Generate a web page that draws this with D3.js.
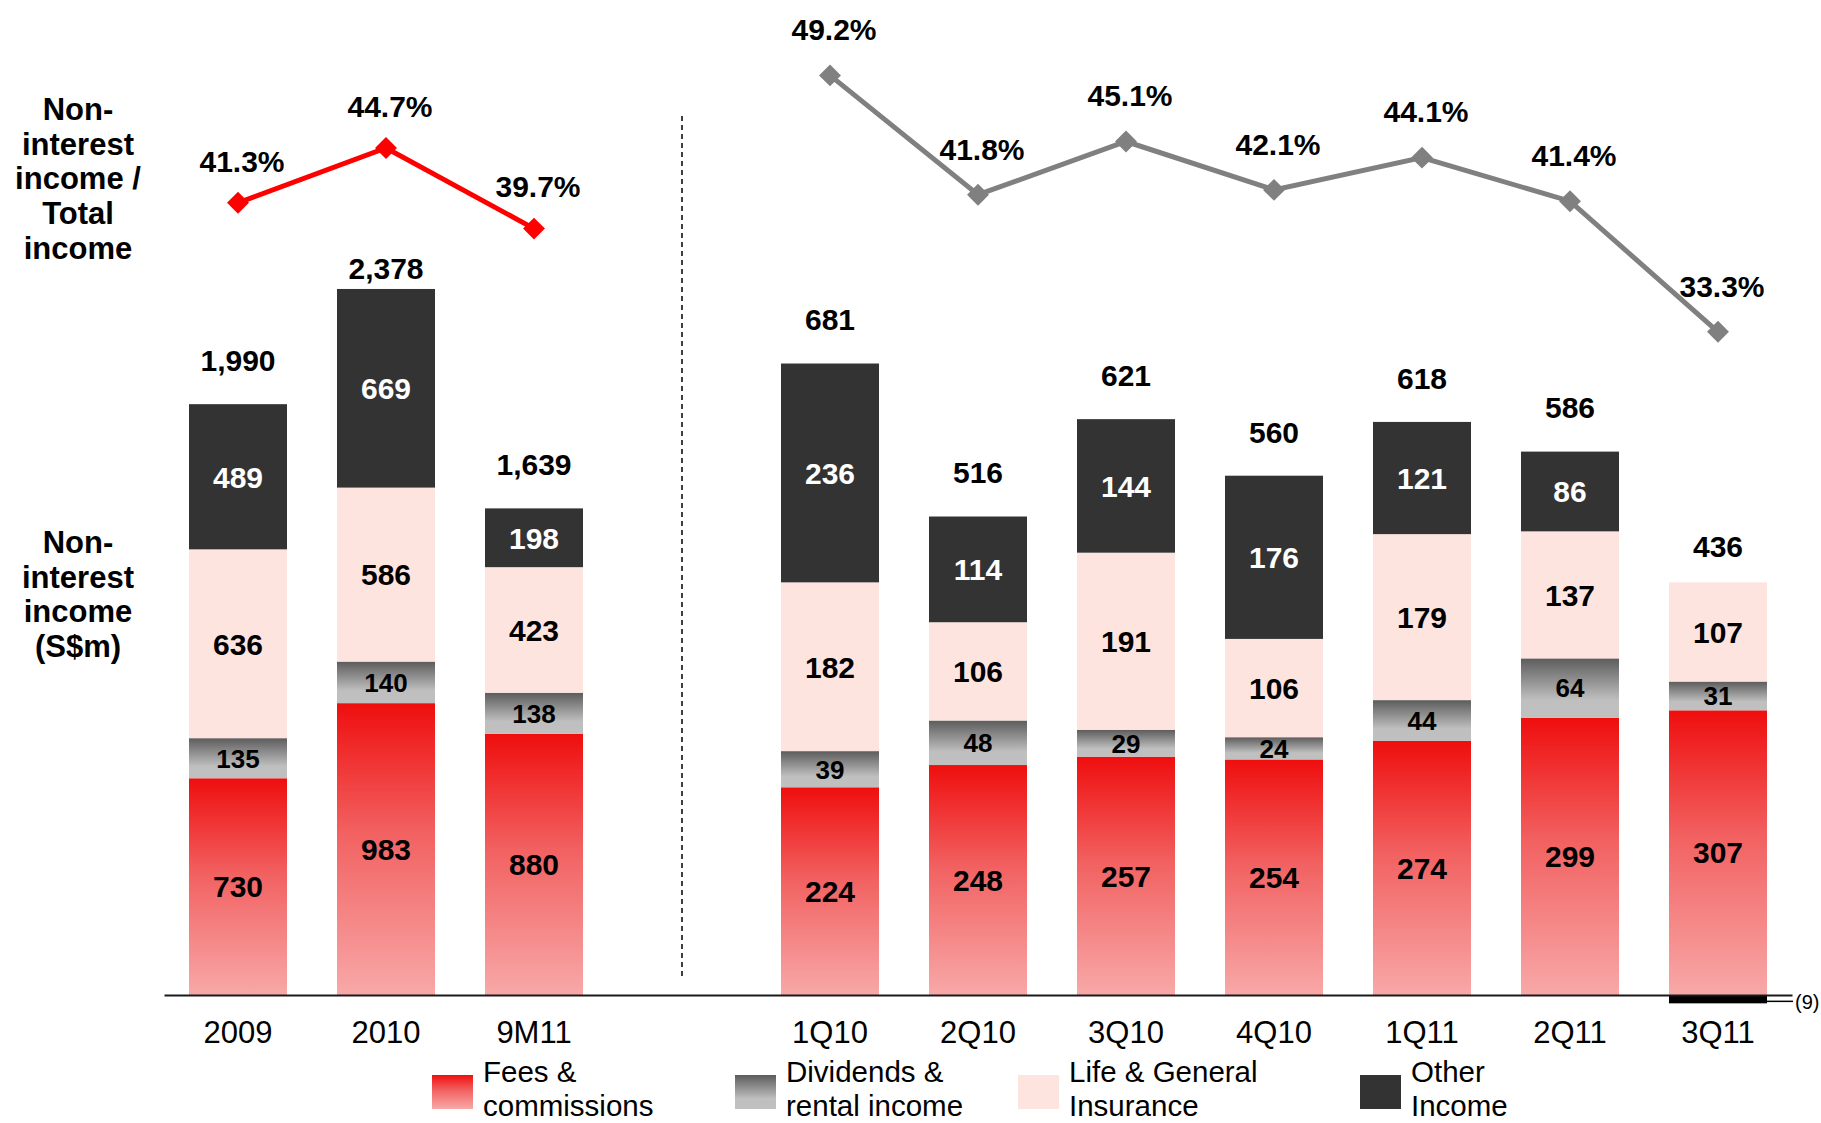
<!DOCTYPE html>
<html>
<head>
<meta charset="utf-8">
<script src="https://cdn.jsdelivr.net/npm/d3@7"></script>
<style>
  body { margin: 0; background: #fff; }
  svg { display: block; font-family: "Liberation Sans", Arial, sans-serif; }
</style>
</head>
<body>
<svg id="chart" width="1821" height="1123"></svg>
<script>
const annualCats = ["2009", "2010", "9M11"];
const quarterCats = ["1Q10", "2Q10", "3Q10", "4Q10", "1Q11", "2Q11", "3Q11"];
const categories = annualCats.concat(quarterCats);

// S$m, in stack order from the bottom
const fees = [730, 983, 880, 224, 248, 257, 254, 274, 299, 307];
const dividends = [135, 140, 138, 39, 48, 29, 24, 44, 64, 31];
const insurance = [636, 586, 423, 182, 106, 191, 106, 179, 137, 107];
const other = [489, 669, 198, 236, 114, 144, 176, 121, 86, -9];
const totals = [1990, 2378, 1639, 681, 516, 621, 560, 618, 586, 436];

// non-interest income / total income, %
const ratio = [41.3, 44.7, 39.7, 49.2, 41.8, 45.1, 42.1, 44.1, 41.4, 33.3];

const seriesKeys = ["fees", "dividends", "insurance", "other"];
const seriesNames = [["Fees &", "commissions"], ["Dividends &", "rental income"],
                     ["Life & General", "Insurance"], ["Other", "Income"]];

const svg = d3.select("#chart");
const baseY = 995;

const rows = categories.map((c, i) => ({
    cat: c, fees: fees[i], dividends: dividends[i], insurance: insurance[i], other: other[i],
    total: totals[i], ratio: ratio[i]
}));

// one empty slot separates the annual and quarterly groups
const slots = annualCats.concat(["_gap"], quarterCats);
const x = d3.scaleBand()
    .domain(slots)
    .range([164, 1792])
    .paddingInner(50 / 148)
    .paddingOuter(25 / 148);

const yAnnual = d3.scaleLinear().domain([0, 2400]).range([baseY, baseY - 2400 * 0.2969]);
const yQuarter = d3.scaleLinear().domain([0, 700]).range([baseY, baseY - 700 * 0.9273]);
const yFor = cat => annualCats.includes(cat) ? yAnnual : yQuarter;

const yRatio = d3.scaleLinear().domain([30, 50]).range([385, 62.5]);

// gradients
const defs = svg.append("defs");
function vGrad(id, stops) {
    const g = defs.append("linearGradient").attr("id", id)
        .attr("x1", 0).attr("y1", 0).attr("x2", 0).attr("y2", 1);
    stops.forEach(s => g.append("stop").attr("offset", s[0]).attr("stop-color", s[1]));
}
vGrad("gFees", [[0, "#ef0e0e"], [0.45, "#f26262"], [1, "#f8a8a8"]]);
vGrad("gDiv", [[0, "#5c5c5c"], [0.7, "#bfbfbf"], [1, "#c0c0c0"]]);

const fills = {fees: "url(#gFees)", dividends: "url(#gDiv)", insurance: "#fee4df", other: "#333333"};

const stacked = d3.stack().keys(seriesKeys).offset(d3.stackOffsetDiverging)(rows);

const barG = svg.append("g");
stacked.forEach(layer => {
    barG.append("g")
        .selectAll("rect")
        .data(layer)
        .enter().append("rect")
            .attr("x", d => x(d.data.cat))
            .attr("width", x.bandwidth())
            .attr("y", d => yFor(d.data.cat)(Math.max(d[0], d[1])))
            .attr("height", d => Math.abs(yFor(d.data.cat)(d[0]) - yFor(d.data.cat)(d[1])))
            .attr("fill", d => (layer.key === "other" && d.data.other < 0) ? "#000" : fills[layer.key]);
});

// segment labels
stacked.forEach(layer => {
    const small = layer.key === "dividends";
    barG.append("g")
        .attr("text-anchor", "middle")
        .attr("font-weight", "bold")
        .attr("font-size", small ? 26 : 30)
        .attr("fill", layer.key === "other" ? "#fff" : "#000")
        .selectAll("text")
        .data(layer.filter(d => d.data[layer.key] > 0))
        .enter().append("text")
            .attr("x", d => x(d.data.cat) + x.bandwidth() / 2)
            .attr("y", d => (yFor(d.data.cat)(d[0]) + yFor(d.data.cat)(d[1])) / 2)
            .attr("dy", "0.36em")
            .text(d => d.data[layer.key]);
});

// totals above the bars
const totalLift = {"2010": 21, "3Q11": 36};
const posTop = d => d.fees + d.dividends + d.insurance + Math.max(0, d.other);
svg.append("g")
    .attr("text-anchor", "middle")
    .attr("font-weight", "bold")
    .attr("font-size", 30)
    .selectAll("text")
    .data(rows)
    .enter().append("text")
        .attr("x", d => x(d.cat) + x.bandwidth() / 2)
        .attr("y", d => yFor(d.cat)(posTop(d)) - (totalLift[d.cat] || 44))
        .attr("dy", "0.36em")
        .text(d => d3.format(",")(d.total));

// negative "other" label for 3Q11
const neg = rows.filter(d => d.other < 0);
neg.forEach(d => {
    const xr = x(d.cat) + x.bandwidth();
    const yb = yFor(d.cat)(d.other);
    svg.append("line").attr("x1", xr).attr("x2", 1793).attr("y1", yb - 2).attr("y2", yb - 2)
        .attr("stroke", "#000").attr("stroke-width", 1.5);
    svg.append("text").attr("x", 1795).attr("y", yb - 2).attr("dy", "0.36em")
        .attr("font-size", 20).text(`(${Math.abs(d.other)})`);
});

// category axis
const xAxis = d3.axisBottom(x)
    .tickValues(categories)
    .tickSize(0)
    .tickPadding(26);
const axG = svg.append("g")
    .attr("transform", `translate(0,${baseY})`)
    .call(xAxis);
axG.select(".domain").attr("stroke", "#1a1a1a").attr("stroke-width", 2);
axG.selectAll("text").attr("font-size", 31).attr("font-family", "Liberation Sans, Arial, sans-serif")
    .attr("fill", "#000");

// dashed divider between annual and quarterly
const gapX = x("_gap") + x.bandwidth() / 2;
svg.append("line")
    .attr("x1", gapX).attr("x2", gapX)
    .attr("y1", 116).attr("y2", 979)
    .attr("stroke", "#000").attr("stroke-width", 1.5)
    .attr("stroke-dasharray", "5,4");

// ratio lines
const lineGen = d3.line()
    .x(d => x(d.cat) + x.bandwidth() / 2)
    .y(d => yRatio(d.ratio));
const diamond = d3.symbol(d3.symbolSquare, 240);

[[rows.slice(0, 3), "#ff0000", 42], [rows.slice(3), "#808080", 46]].forEach(([data, color, lift]) => {
    const g = svg.append("g");
    g.append("path")
        .datum(data)
        .attr("d", lineGen)
        .attr("fill", "none")
        .attr("stroke", color)
        .attr("stroke-width", 5);
    g.selectAll("path.mk")
        .data(data)
        .enter().append("path")
            .attr("class", "mk")
            .attr("d", diamond)
            .attr("fill", color)
            .attr("transform", d => `translate(${x(d.cat) + x.bandwidth() / 2},${yRatio(d.ratio)}) rotate(45)`);
    g.selectAll("text")
        .data(data)
        .enter().append("text")
            .attr("x", d => x(d.cat) + x.bandwidth() / 2 + 4)
            .attr("y", d => yRatio(d.ratio) - lift)
            .attr("dy", "0.36em")
            .attr("text-anchor", "middle")
            .attr("font-weight", "bold")
            .attr("font-size", 30)
            .text(d => d3.format(".1f")(d.ratio) + "%");
});

// left-hand titles
function block(lines, yFirst) {
    const t = svg.append("text")
        .attr("x", 78).attr("y", yFirst)
        .attr("text-anchor", "middle")
        .attr("font-weight", "bold")
        .attr("font-size", 31);
    lines.forEach((l, i) => t.append("tspan").attr("x", 78).attr("y", yFirst + i * 34.7).text(l));
}
block(["Non-", "interest", "income /", "Total", "income"], 120);
block(["Non-", "interest", "income", "(S$m)"], 553);

// legend
const legendX = [432, 735, 1018, 1360];
const legend = svg.append("g");
seriesKeys.forEach((k, i) => {
    const g = legend.append("g").attr("transform", `translate(${legendX[i]},0)`);
    g.append("rect").attr("x", 0).attr("y", 1075).attr("width", 41).attr("height", 34)
        .attr("fill", fills[k]);
    g.append("text").attr("x", 51).attr("y", 1082).attr("font-size", 29.5).text(seriesNames[i][0]);
    g.append("text").attr("x", 51).attr("y", 1116).attr("font-size", 29.5).text(seriesNames[i][1]);
});
</script>
</body>
</html>
